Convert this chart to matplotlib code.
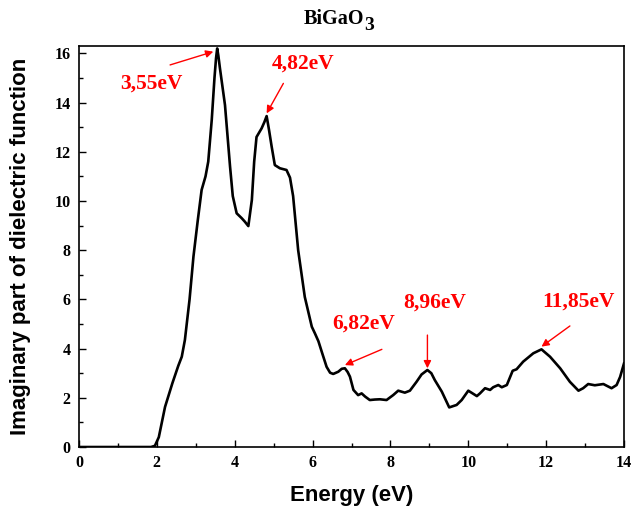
import matplotlib
matplotlib.use("Agg")
import matplotlib.pyplot as plt
from matplotlib.ticker import MultipleLocator


energy = [0, 1.0, 1.85, 1.95, 2.05, 2.21, 2.4, 2.55, 2.64, 2.72, 2.84, 2.94,
          3.05, 3.15, 3.25, 3.32, 3.41, 3.48, 3.52, 3.55, 3.58, 3.62, 3.75,
          3.88, 3.95, 4.05, 4.18, 4.26, 4.35, 4.44, 4.5, 4.56, 4.69, 4.76,
          4.82, 4.88, 4.95, 5.03, 5.16, 5.33, 5.42, 5.5, 5.63, 5.80, 5.98,
          6.06, 6.15, 6.25, 6.36, 6.45, 6.53, 6.66, 6.75, 6.83, 6.9, 6.96,
          7.05, 7.17, 7.26, 7.35, 7.47, 7.6, 7.73, 7.9, 8.07, 8.2, 8.37, 8.5,
          8.67, 8.8, 8.95, 9.05, 9.14, 9.32, 9.51, 9.70, 9.83, 10.0, 10.22,
          10.3, 10.43, 10.56, 10.64, 10.77, 10.86, 10.99, 11.14, 11.24,
          11.41, 11.67, 11.88, 12.1, 12.36, 12.61, 12.83, 12.95, 13.08,
          13.25, 13.47, 13.68, 13.81, 13.9, 14.0]

eps2 = [0, 0, 0, 0.05, 0.4, 1.63, 2.6, 3.3, 3.67, 4.35, 6.0, 7.74,
        9.2, 10.45, 11.0, 11.6, 13.3, 15.0, 15.8, 16.2, 15.9, 15.4, 13.9,
        11.4, 10.2, 9.5, 9.3, 9.16, 8.98, 10.04, 11.6, 12.6, 12.95, 13.2,
        13.45, 12.9, 12.2, 11.46, 11.33, 11.26, 10.95, 10.2, 8.0, 6.1, 4.89,
        4.62, 4.3, 3.8, 3.26, 3.02, 2.97, 3.06, 3.18, 3.2, 3.05, 2.86,
        2.32, 2.11, 2.18, 2.05, 1.91, 1.93, 1.94, 1.91, 2.11, 2.29, 2.21, 2.29,
        2.65, 2.95, 3.13, 3.0, 2.72, 2.25, 1.61, 1.71, 1.91, 2.29, 2.07,
        2.18, 2.39, 2.32, 2.43, 2.52, 2.43, 2.52, 3.10, 3.16,
        3.47, 3.81, 3.97, 3.67, 3.2, 2.65, 2.29, 2.39, 2.56,
        2.51, 2.56, 2.39, 2.52, 2.85, 3.4]

# peak labels: text, text position, arrow tail, arrow head
peak_labels = ["3,55eV", "4,82eV", "6,82eV", "8,96eV", "11,85eV"]
label_pos = [(1.87, 14.78), (5.76, 15.6), (7.30, 5.03), (9.14, 5.88), (12.83, 5.91)]
arrow_tail = [(2.34, 15.53), (5.25, 14.78), (7.78, 3.97), (8.95, 4.55), (12.61, 4.92)]
arrow_head = [(3.45, 16.07), (4.82, 13.56), (6.83, 3.33), (8.95, 3.2), (11.88, 4.08)]


def main() -> None:
    serif = "Liberation Serif"
    sans = "Liberation Sans"

    fig = plt.figure(figsize=(6.33, 5.07), dpi=100)
    ax = fig.add_axes([0.1248, 0.1183, 0.861, 0.791])

    ax.plot(energy, eps2, color="black", linewidth=1.9, solid_joinstyle="round")

    for text, pos, tail, head in zip(peak_labels, label_pos, arrow_tail, arrow_head):
        ax.annotate("", xy=head, xytext=tail,
                    arrowprops=dict(arrowstyle="-|>", color="red", lw=1.0,
                                    mutation_scale=11, shrinkA=0, shrinkB=0))
        ax.text(pos[0], pos[1], text, color="red", fontsize=15.5,
                fontweight="bold", family=serif, ha="center", va="center")

    ax.set_xlim(0, 14)
    ax.set_ylim(0, 16.3)
    ax.xaxis.set_major_locator(MultipleLocator(2))
    ax.xaxis.set_minor_locator(MultipleLocator(1))
    ax.yaxis.set_major_locator(MultipleLocator(2))
    ax.yaxis.set_minor_locator(MultipleLocator(1))
    ax.tick_params(which="both", direction="in", top=False, right=False, width=1.0)
    ax.tick_params(which="major", length=5, pad=6)
    ax.tick_params(which="minor", length=3)
    for lab in ax.get_xticklabels() + ax.get_yticklabels():
        lab.set_family(serif)
        lab.set_fontweight("bold")
        lab.set_fontsize(11.5)
    for sp in ax.spines.values():
        sp.set_linewidth(1.2)

    ax.set_xlabel("Energy (eV)", family=sans, fontweight="bold", fontsize=16, labelpad=9.5)
    ax.set_ylabel("Imaginary part of dielectric function", family=sans,
                  fontweight="bold", fontsize=16, labelpad=17)

    # title with a full-size, lowered "3"
    fig.text(0.576, 0.953, "BiGaO", family=serif, fontweight="bold",
             fontsize=14.5, ha="right", va="baseline")
    fig.text(0.5755, 0.941, "3", family=serif, fontweight="bold",
             fontsize=14, ha="left", va="baseline")

    fig.savefig("out.png", dpi=100)


if __name__ == "__main__":
    main()
